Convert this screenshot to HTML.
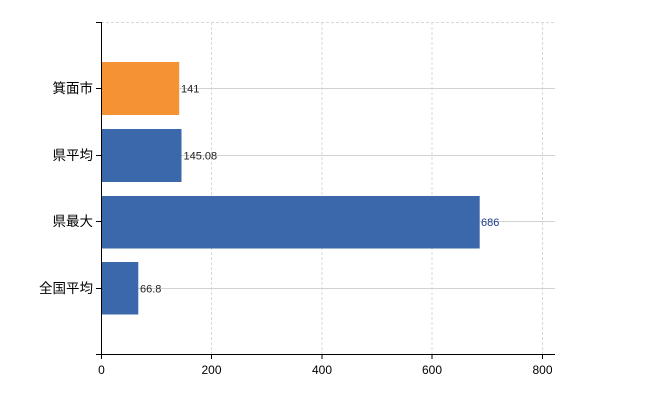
<!DOCTYPE html>
<html><head><meta charset="utf-8"><style>
body{margin:0;background:#fff}
svg{display:block;font-family:"Liberation Sans","Noto Sans CJK JP",sans-serif}
</style></head><body>
<svg width="650" height="400" viewBox="0 0 650 400">
<g stroke="#d8d8d8" stroke-width="1" stroke-dasharray="3,2">
<line x1="211.5" y1="22" x2="211.5" y2="354"/>
<line x1="322" y1="22" x2="322" y2="354"/>
<line x1="432" y1="22" x2="432" y2="354"/>
<line x1="542.5" y1="22" x2="542.5" y2="354"/>
<line x1="101" y1="22.5" x2="555" y2="22.5"/>
</g>
<g stroke="#cfd4cf" stroke-width="1">
<line x1="101" y1="88.5" x2="555" y2="88.5"/>
<line x1="101" y1="155.5" x2="555" y2="155.5"/>
<line x1="101" y1="221.5" x2="555" y2="221.5"/>
<line x1="101" y1="288.5" x2="555" y2="288.5"/>
</g>
<rect x="101.5" y="62" width="77.7" height="53" fill="#f59234"/>
<rect x="101.5" y="129" width="80" height="53" fill="#3b68ab"/>
<rect x="101.5" y="196" width="378.2" height="52.5" fill="#3b68ab"/>
<rect x="101.5" y="262" width="36.8" height="52.5" fill="#3b68ab"/>
<g font-size="11" fill="#222">
<text x="181" y="92.5">141</text>
<text x="183.5" y="159.5">145.08</text>
<text x="481" y="226" fill="#1a3c8a">686</text>
<text x="140" y="292.5">66.8</text>
</g>
<g stroke="#000" stroke-width="1">
<line x1="101.5" y1="22" x2="101.5" y2="354"/>
<line x1="96" y1="22.5" x2="101.5" y2="22.5"/>
<line x1="96" y1="88.5" x2="101.5" y2="88.5"/>
<line x1="96" y1="155.5" x2="101.5" y2="155.5"/>
<line x1="96" y1="221.5" x2="101.5" y2="221.5"/>
<line x1="96" y1="288.5" x2="101.5" y2="288.5"/>
<line x1="96" y1="354.5" x2="555" y2="354.5"/>
<line x1="101.5" y1="354" x2="101.5" y2="359"/>
<line x1="211.5" y1="354" x2="211.5" y2="359"/>
<line x1="322" y1="354" x2="322" y2="359"/>
<line x1="432" y1="354" x2="432" y2="359"/>
<line x1="542.5" y1="354" x2="542.5" y2="359"/>
</g>
<g font-size="13.5" fill="#000" text-anchor="end">
<text x="93" y="93">箕面市</text>
<text x="93" y="160">県平均</text>
<text x="93" y="226">県最大</text>
<text x="93" y="293">全国平均</text>
</g>
<g font-size="12" fill="#000" text-anchor="middle">
<text x="101.5" y="374">0</text>
<text x="211.5" y="374">200</text>
<text x="322" y="374">400</text>
<text x="432" y="374">600</text>
<text x="542.5" y="374">800</text>
</g>
</svg>
</body></html>
